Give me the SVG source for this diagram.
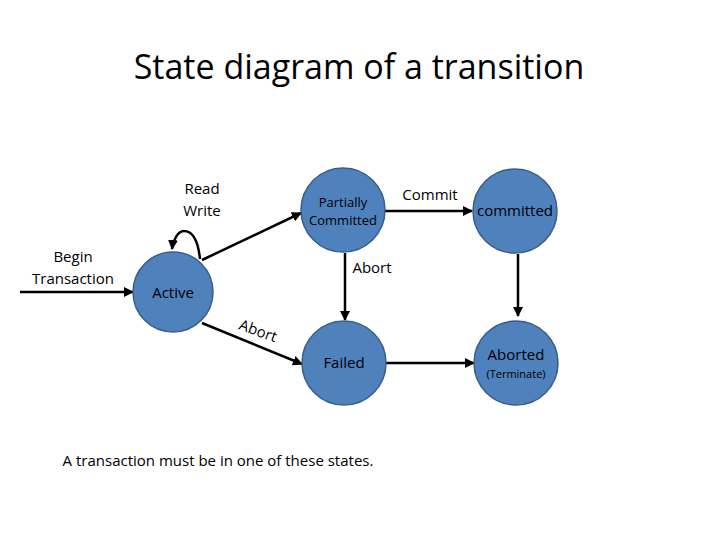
<svg xmlns="http://www.w3.org/2000/svg" width="720" height="540" viewBox="0 0 720 540">
<style>
.n{fill:#4f81bd;stroke:#385d8a;stroke-width:1.5}
.t{font-family:"Open Sans","Liberation Sans",sans-serif;fill:#000}
.c{stroke:#000;stroke-width:2.5;fill:none;marker-end:url(#a)}
</style>
<defs><marker id="a" viewBox="0 0 10 10" refX="9" refY="5" markerWidth="4" markerHeight="4" orient="auto"><path d="M0,0L10,5L0,10z" fill="#000"/></marker></defs>
<rect width="720" height="540" fill="#fff"/>
<text class="t" x="359" y="79" font-size="34" text-anchor="middle">State diagram of a transition</text>
<g id="connectors">
<path class="c" d="M20,292H133"/>
<path class="c" d="M200,259C198,240 192,231 184,231C178,231 173,240 172,249"/>
<path class="c" d="M202,260L301,213"/>
<path class="c" d="M345,253V320"/>
<path class="c" d="M202,323L302,364"/>
<path class="c" d="M385,211H472"/>
<path class="c" d="M518,254V316"/>
<path class="c" d="M385,363H474"/>
<text class="t" x="202" y="194" font-size="15" text-anchor="middle">Read</text>
<text class="t" x="202" y="216" font-size="15" text-anchor="middle">Write</text>
<text class="t" x="73" y="262" font-size="15" text-anchor="middle">Begin</text>
<text class="t" x="73" y="284" font-size="15" text-anchor="middle">Transaction</text>
<text class="t" x="372" y="273" font-size="15" text-anchor="middle">Abort</text>
<text class="t" x="430" y="200" font-size="15" text-anchor="middle">Commit</text>
<text class="t" x="238" y="329" font-size="15" transform="rotate(20 238 329)">Abort</text>
</g>
<g id="active"><circle class="n" cx="173" cy="292" r="40"/><text class="t" x="173" y="298" font-size="15" text-anchor="middle">Active</text></g>
<g id="partially"><circle class="n" cx="343" cy="210" r="42"/><text class="t" x="343" y="207" font-size="13" text-anchor="middle">Partially</text><text class="t" x="343" y="225" font-size="13" text-anchor="middle">Committed</text></g>
<g id="failed"><circle class="n" cx="344" cy="363" r="42"/><text class="t" x="344" y="368" font-size="15" text-anchor="middle">Failed</text></g>
<g id="committed"><circle class="n" cx="515" cy="211" r="42"/><text class="t" x="515" y="216" font-size="15" text-anchor="middle">committed</text></g>
<g id="aborted"><circle class="n" cx="516" cy="363" r="42"/><text class="t" x="516" y="360" font-size="15" text-anchor="middle">Aborted</text><text class="t" x="516" y="378" font-size="11" text-anchor="middle">(Terminate)</text></g>
<text class="t" x="218" y="466" font-size="15" text-anchor="middle">A transaction must be in one of these states.</text>
</svg>
